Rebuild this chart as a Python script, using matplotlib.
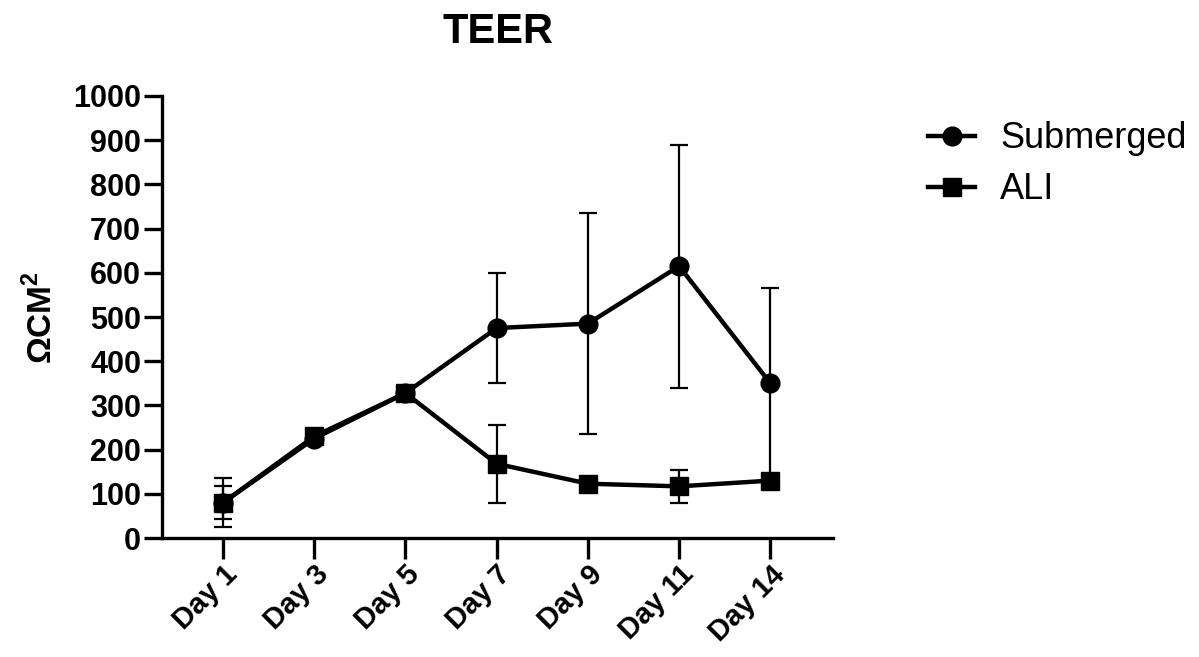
import numpy as np
import matplotlib.pyplot as plt

plt.rcParams['font.family'] = ['Liberation Sans', 'DejaVu Sans']
plt.rcParams['mathtext.fontset'] = 'custom'
plt.rcParams['mathtext.rm'] = 'Liberation Sans:bold'

days = ['Day 1', 'Day 3', 'Day 5', 'Day 7', 'Day 9', 'Day 11', 'Day 14']
submerged = [80, 225, 328, 475, 485, 615, 350]
submerged_err = [55, 10, 8, 125, 250, 275, 215]
ali = [80, 230, 328, 168, 123, 117, 130]
ali_err = [37, 10, 8, 88, 15, 38, 5]

fig = plt.figure(figsize=(11.99, 6.57), dpi=100)
ax = fig.add_axes([0.135, 0.181, 0.56, 0.673])

x = np.arange(len(days))
ax.errorbar(x, submerged, yerr=submerged_err, color='black', lw=3.2, marker='o',
            ms=13.5, elinewidth=1.6, capsize=6.5, capthick=1.6, label='Submerged',
            zorder=3)
ax.errorbar(x, ali, yerr=ali_err, color='black', lw=3.2, marker='s',
            ms=13, elinewidth=1.6, capsize=6.5, capthick=1.6, label='ALI',
            zorder=4)

ax.set_xlim(-0.67, 6.69)
ax.set_ylim(0, 1000)
ax.set_yticks(np.arange(0, 1001, 100))
ax.set_xticks(x)
ax.set_xticklabels(days, rotation=45, ha='right', rotation_mode='anchor')
for s in ['top', 'right']:
    ax.spines[s].set_visible(False)
for s in ['left', 'bottom']:
    ax.spines[s].set_linewidth(2.4)
ax.tick_params(axis='y', length=13, width=2.4, labelsize=22, pad=2)
ax.tick_params(axis='x', length=15, width=2.4, labelsize=21, pad=1)
for lab in ax.get_xticklabels() + ax.get_yticklabels():
    lab.set_fontweight('bold')

ax.set_ylabel('ΩCM$^2$', fontsize=24, fontweight='bold', labelpad=10)
ax.set_title('TEER', fontsize=30, fontweight='bold', pad=38)

handles, labels = ax.get_legend_handles_labels()
handles = [h[0] for h in handles]
fig.legend(handles, labels, loc='upper left', bbox_to_anchor=(0.747, 0.865),
           frameon=False, fontsize=26, handlelength=1.3, labelspacing=0.45,
           handletextpad=0.7)

fig.savefig('out.png', dpi=100)
